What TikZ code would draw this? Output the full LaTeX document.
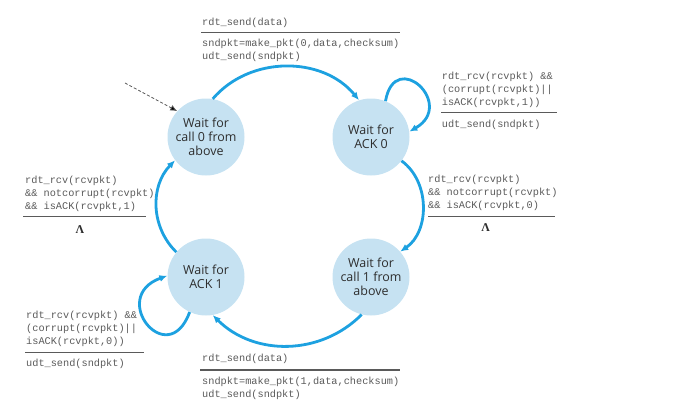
\documentclass[tikz,border=0pt]{standalone}
\usepackage{fontspec}
\setmainfont{Open Sans}
\setmonofont{Liberation Mono}
\newfontfamily\lamfont{Liberation Serif}
\usetikzlibrary{arrows.meta}
\definecolor{fsmblue}{HTML}{1DA1E0}
\definecolor{fsmfill}{HTML}{C6E2F2}
\definecolor{fsmtext}{HTML}{2E2E2E}
\definecolor{codegray}{HTML}{5A5A5A}
\begin{document}
\begin{tikzpicture}[x=1bp, y=1bp,
    state/.style={circle, fill=fsmfill, minimum size=77bp, inner sep=0pt,
      align=center, text=fsmtext, font=\fontsize{12.5}{14.3}\selectfont},
    trans/.style={draw=fsmblue, line width=2.8bp, -{Latex[length=8bp,width=7bp]}},
    code/.style={anchor=north west, inner sep=0pt, align=left, text=codegray,
      font=\ttfamily\fontsize{10.3}{13.3}\selectfont},
    lambda/.style={text=fsmtext, font=\lamfont\bfseries\fontsize{12}{13}\selectfont},
    rule/.style={draw=codegray, line width=1.2bp}]
      \useasboundingbox (0, 0) rectangle (693, 411);
      % states
      \node [state] (call0) at (206, 274) {Wait for\\call 0 from\\above};
      \node [state] (ack0) at (371, 274) {Wait for\\ACK 0};
      \node [state] (call1) at (371, 134) {Wait for\\call 1 from\\above};
      \node [state] (ack1) at (206, 134) {Wait for\\ACK 1};
      % initial arrow
      \coordinate (init) at (125, 328);
      \draw [dashed, dash pattern=on 3bp off 2bp, draw=codegray, line width=0.8bp,
        -{Latex[length=7bp,width=6bp,fill=black]}] (init) -- (call0.138);
      % transitions
      \draw [trans] (call0.80) to [bend left=50] (ack0.108);
      \draw [trans] (ack0.-38) to [bend left=55] (call1.41);
      \draw [trans] (call1.-104) to [bend left=45] (ack1.-80);
      \draw [trans] (ack1.140) to [bend left=45] (call0.-143);
      \draw [trans] (ack0.68) to [out=80, in=30, looseness=3.6] (ack0.8);
      \draw [trans] (ack1.245) to [out=-110, in=200, looseness=3.8] (ack1.178);
      % top label
      \node [code] (lbltopa) at (202, 393.3) {rdt\_send(data)};
      \draw [rule] (201, 378.7) -- (400, 378.7);
      \node [code] (lbltopb) at (202, 372.3) {sndpkt=make\_pkt(0,data,checksum)\\udt\_send(sndpkt)};
      % left label
      \node [code] (lblleft) at (25, 235.3) {rdt\_rcv(rcvpkt)\\\&\& notcorrupt(rcvpkt)\\\&\& isACK(rcvpkt,1)};
      \draw [rule] (23, 194.3) -- (146, 194.3);
      \node [lambda] (lblleftb) at (80, 181) {Λ};
      % right top label
      \node [code] (lblrta) at (441.7, 339.6) {rdt\_rcv(rcvpkt) \&\&\\(corrupt(rcvpkt)||\\isACK(rcvpkt,1))};
      \draw [rule] (441, 298.7) -- (557, 298.7);
      \node [code] (lblrtb) at (441.7, 291.3) {udt\_send(sndpkt)};
      % right label
      \node [code] (lblright) at (428, 236.3) {rdt\_rcv(rcvpkt)\\\&\& notcorrupt(rcvpkt)\\\&\& isACK(rcvpkt,0)};
      \draw [rule] (428, 194.3) -- (555, 194.3);
      \node [lambda] (lblrightb) at (485.7, 183) {Λ};
      % lower left label
      \node [code] (lblloa) at (26, 100.3) {rdt\_rcv(rcvpkt) \&\&\\(corrupt(rcvpkt)||\\isACK(rcvpkt,0))};
      \draw [rule] (25, 58.7) -- (144, 58.7);
      \node [code] (lbllob) at (26, 52) {udt\_send(sndpkt)};
      % bottom label
      \node [code] (lblbota) at (202, 57) {rdt\_send(data)};
      \draw [rule] (200, 41) -- (400, 41);
      \node [code] (lblbotb) at (202, 34.6) {sndpkt=make\_pkt(1,data,checksum)\\udt\_send(sndpkt)};
    \end{tikzpicture}
\end{document}
